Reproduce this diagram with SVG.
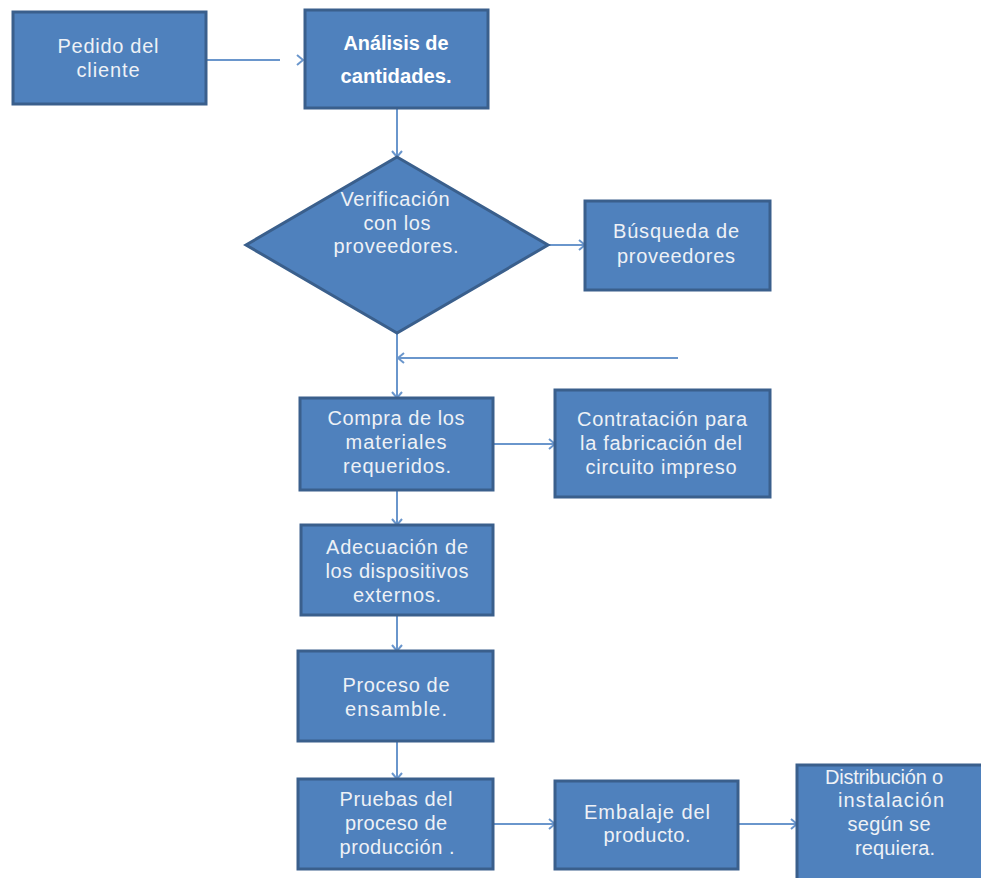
<svg xmlns="http://www.w3.org/2000/svg" width="981" height="878" viewBox="0 0 981 878">
  <style>
    .box { fill: #4F81BD; stroke: #3A5F8C; stroke-width: 3; }
    .lbl { font-family: "Liberation Sans", Arial, sans-serif; font-size: 20px; fill: #EEF1F6; text-anchor: middle; }
    .bold { font-weight: bold; font-size: 20px; fill: #FFFFFF; }
    .wire { fill: none; stroke: #6A96CC; stroke-width: 2; }
  </style>
  <defs>
    <marker id="chev" markerWidth="12" markerHeight="12" refX="9" refY="6" orient="auto" markerUnits="userSpaceOnUse">
      <path d="M3,1 L9,6 L3,11" fill="none" stroke="#6A96CC" stroke-width="2"/>
    </marker>
  </defs>
  <rect width="981" height="878" fill="#FFFFFF"/>

  <g id="connectors">
    <path class="wire" d="M207,60 L280,60"/>
    <path class="wire" d="M297,55 L303,60 L297,65"/>
    <path class="wire" d="M397,108 L397,157" marker-end="url(#chev)"/>
    <path class="wire" d="M548,245 L585,245" marker-end="url(#chev)"/>
    <path class="wire" d="M397,333 L397,398" marker-end="url(#chev)"/>
    <path class="wire" d="M678,358 L398,358" marker-end="url(#chev)"/>
    <path class="wire" d="M493,444 L555,444" marker-end="url(#chev)"/>
    <path class="wire" d="M397,490 L397,525" marker-end="url(#chev)"/>
    <path class="wire" d="M397,615 L397,651" marker-end="url(#chev)"/>
    <path class="wire" d="M397,741 L397,779" marker-end="url(#chev)"/>
    <path class="wire" d="M493,824 L555,824" marker-end="url(#chev)"/>
    <path class="wire" d="M738,824 L797,824" marker-end="url(#chev)"/>
  </g>

  <g id="pedido">
    <rect class="box" x="13" y="12" width="193" height="92"/>
    <text class="lbl" x="108" y="53" textLength="101" lengthAdjust="spacing">Pedido del</text>
    <text class="lbl" x="108" y="77" textLength="63" lengthAdjust="spacing">cliente</text>
  </g>

  <g id="analisis">
    <rect class="box" x="305" y="10" width="183" height="98"/>
    <text class="lbl bold" x="396" y="50" textLength="105" lengthAdjust="spacingAndGlyphs">Análisis de</text>
    <text class="lbl bold" x="396" y="83" textLength="111" lengthAdjust="spacingAndGlyphs">cantidades.</text>
  </g>

  <g id="verificacion">
    <polygon class="box" points="397,157 548,245 397,333 246,245"/>
    <text class="lbl" x="395" y="206" textLength="109" lengthAdjust="spacing">Verificación</text>
    <text class="lbl" x="397" y="230" textLength="67" lengthAdjust="spacing">con los</text>
    <text class="lbl" x="396" y="253" textLength="125" lengthAdjust="spacing">proveedores.</text>
  </g>

  <g id="busqueda">
    <rect class="box" x="585" y="201" width="185" height="89"/>
    <text class="lbl" x="676" y="238" textLength="126" lengthAdjust="spacing">Búsqueda de</text>
    <text class="lbl" x="676" y="263" textLength="118" lengthAdjust="spacing">proveedores</text>
  </g>

  <g id="compra">
    <rect class="box" x="300" y="398" width="193" height="92"/>
    <text class="lbl" x="396" y="425" textLength="137" lengthAdjust="spacing">Compra de los</text>
    <text class="lbl" x="396" y="449" textLength="101" lengthAdjust="spacing">materiales</text>
    <text class="lbl" x="397" y="473" textLength="108" lengthAdjust="spacing">requeridos.</text>
  </g>

  <g id="contratacion">
    <rect class="box" x="555" y="390" width="215" height="107"/>
    <text class="lbl" x="662" y="426" textLength="170" lengthAdjust="spacing">Contratación para</text>
    <text class="lbl" x="661" y="450" textLength="162" lengthAdjust="spacing">la fabricación del</text>
    <text class="lbl" x="661" y="474" textLength="151" lengthAdjust="spacing">circuito impreso</text>
  </g>

  <g id="adecuacion">
    <rect class="box" x="301" y="525" width="192" height="90"/>
    <text class="lbl" x="397" y="554" textLength="142" lengthAdjust="spacing">Adecuación de</text>
    <text class="lbl" x="397" y="578" textLength="143" lengthAdjust="spacing">los dispositivos</text>
    <text class="lbl" x="397" y="602" textLength="88" lengthAdjust="spacing">externos.</text>
  </g>

  <g id="proceso">
    <rect class="box" x="298" y="651" width="195" height="90"/>
    <text class="lbl" x="396" y="692" textLength="107" lengthAdjust="spacing">Proceso de</text>
    <text class="lbl" x="396" y="716" textLength="102" lengthAdjust="spacing">ensamble.</text>
  </g>

  <g id="pruebas">
    <rect class="box" x="298" y="779" width="195" height="90"/>
    <text class="lbl" x="396" y="806" textLength="113" lengthAdjust="spacing">Pruebas del</text>
    <text class="lbl" x="396" y="830" textLength="102" lengthAdjust="spacing">proceso de</text>
    <text class="lbl" x="397" y="854" textLength="115" lengthAdjust="spacing">producción .</text>
  </g>

  <g id="embalaje">
    <rect class="box" x="555" y="781" width="183" height="88"/>
    <text class="lbl" x="647" y="819" textLength="126" lengthAdjust="spacing">Embalaje del</text>
    <text class="lbl" x="647" y="842" textLength="87" lengthAdjust="spacing">producto.</text>
  </g>

  <g id="distribucion">
    <rect class="box" x="797" y="765" width="186" height="116"/>
    <text class="lbl" x="884" y="784" textLength="118" lengthAdjust="spacing">Distribución o</text>
    <text class="lbl" x="891" y="807" textLength="106" lengthAdjust="spacing">instalación</text>
    <text class="lbl" x="889" y="831" textLength="83" lengthAdjust="spacing">según se</text>
    <text class="lbl" x="895" y="855" textLength="80" lengthAdjust="spacing">requiera.</text>
  </g>
</svg>
